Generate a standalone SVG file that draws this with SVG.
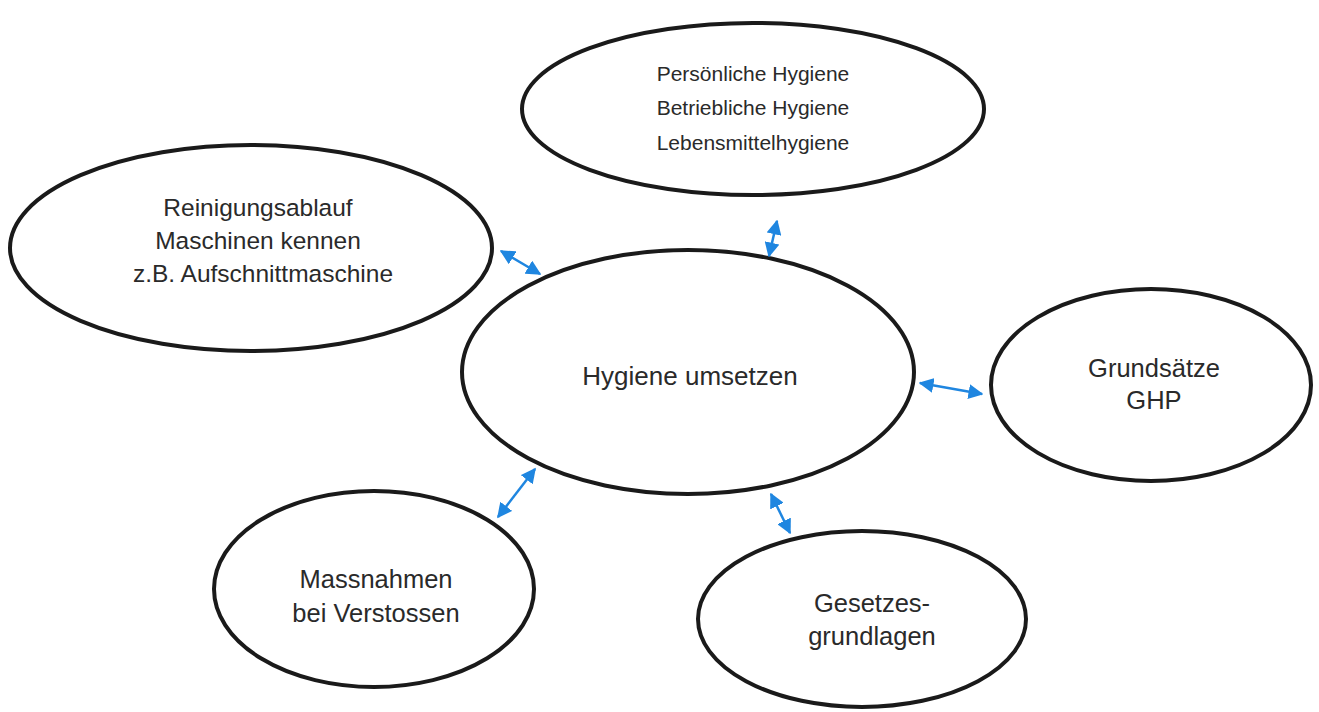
<svg xmlns="http://www.w3.org/2000/svg" width="1319" height="712" viewBox="0 0 1319 712">
<style>
.node ellipse{fill:#fff;stroke:#1a1a1a;stroke-width:4}
text{font-family:"Liberation Sans",Arial,sans-serif;fill:#2a2a2a;text-anchor:middle}
.big{font-size:25.5px}
.mid{font-size:24.5px}
.small{font-size:21px}
.conn line{stroke:#1f86e0;stroke-width:2.5;marker-start:url(#ah);marker-end:url(#ah)}
</style>
<defs>
<marker id="ah" viewBox="0 0 10 10" refX="9" refY="5" markerWidth="6" markerHeight="6" markerUnits="strokeWidth" orient="auto-start-reverse">
<path d="M0,0 L10,5 L0,10 z" fill="#1f86e0"/>
</marker>
</defs>
<rect width="1319" height="712" fill="#fff"/>
<g id="top" class="node">
<ellipse cx="753" cy="109" rx="231" ry="86"/>
<text class="small" x="753" y="81">Persönliche Hygiene</text>
<text class="small" x="753" y="115">Betriebliche Hygiene</text>
<text class="small" x="753" y="150">Lebensmittelhygiene</text>
</g>
<g id="left" class="node">
<ellipse cx="251" cy="248" rx="241" ry="103"/>
<text class="mid" x="258" y="216">Reinigungsablauf</text>
<text class="mid" x="258" y="249">Maschinen kennen</text>
<text class="mid" x="263" y="282">z.B. Aufschnittmaschine</text>
</g>
<g id="center" class="node">
<ellipse cx="688" cy="372" rx="226" ry="122"/>
<text class="big" x="690" y="385" style="font-size:26px">Hygiene umsetzen</text>
</g>
<g id="right" class="node">
<ellipse cx="1151" cy="385" rx="160" ry="96"/>
<text class="big" x="1154" y="377">Grundsätze</text>
<text class="big" x="1154" y="409">GHP</text>
</g>
<g id="bottomleft" class="node">
<ellipse cx="374" cy="589" rx="160" ry="98"/>
<text class="big" x="376" y="588">Massnahmen</text>
<text class="big" x="376" y="622">bei Verstossen</text>
</g>
<g id="bottom" class="node">
<ellipse cx="862" cy="619" rx="164" ry="88"/>
<text class="big" x="872" y="612">Gesetzes-</text>
<text class="big" x="872" y="645">grundlagen</text>
</g>
<g id="connectors" class="conn">
<line x1="501" y1="251" x2="540" y2="274"/>
<line x1="777" y1="221" x2="769" y2="256"/>
<line x1="920" y1="383" x2="982" y2="394"/>
<line x1="535" y1="469" x2="498" y2="517"/>
<line x1="771" y1="494" x2="790" y2="533"/>
</g>
</svg>
